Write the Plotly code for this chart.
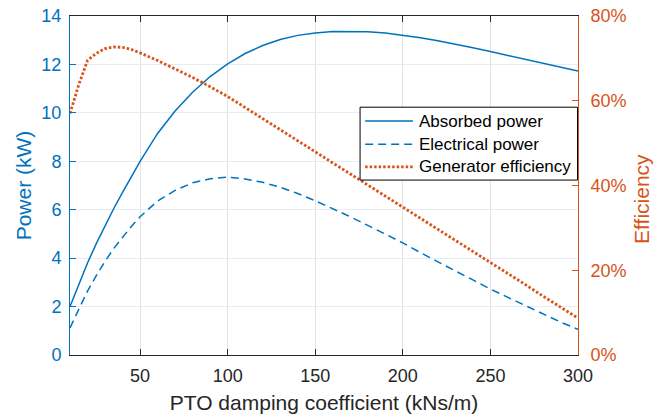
import plotly.graph_objects as go

# PTO damping coefficient (kNs/m)
damping = [10, 15, 20, 25, 30, 35, 40, 45, 50, 60, 70, 80, 90, 100, 110, 120, 130, 140,
           150, 160, 170, 180, 190, 200, 210, 220, 230, 240, 250, 260, 270, 280, 290, 300]

# absorbed power (kW)
absorbed = [2.0, 2.9, 3.8, 4.6, 5.35, 6.05, 6.72, 7.38, 8.0, 9.15, 10.08, 10.85, 11.5, 12.02,
            12.45, 12.78, 13.03, 13.2, 13.3, 13.36, 13.37, 13.35, 13.3, 13.21, 13.1, 12.98,
            12.85, 12.69, 12.53, 12.37, 12.2, 12.04, 11.88, 11.73]

# electrical power (kW)
electrical = [1.12, 1.85, 2.64, 3.28, 3.87, 4.4, 4.87, 5.31, 5.71, 6.36, 6.8, 7.11, 7.28,
              7.35, 7.27, 7.13, 6.93, 6.67, 6.37, 6.05, 5.71, 5.35, 4.99, 4.63, 4.23, 3.84,
              3.47, 3.1, 2.72, 2.38, 2.03, 1.68, 1.36, 1.06]

# generator efficiency (%)
efficiency = [57.0, 63.8, 69.5, 71.2, 72.3, 72.7, 72.6, 72.1, 71.3, 69.5, 67.5, 65.5, 63.3,
              61.0, 58.4, 55.8, 53.2, 50.5, 47.9, 45.3, 42.7, 40.1, 37.5, 34.9, 32.3, 29.6,
              27.0, 24.4, 21.8, 19.2, 16.6, 13.9, 11.3, 8.7]

series_names = ["Absorbed power", "Electrical power", "Generator efficiency"]

BLUE = "#0072BD"
ORANGE = "#D95319"
FONT = "Liberation Sans, Arial, Helvetica, sans-serif"

styles = [
    dict(color=BLUE, width=1.5),
    dict(color=BLUE, width=1.5, dash="8px,5px"),
    dict(color=ORANGE, width=2.8, dash="2.5px,2px"),
]

fig = go.Figure()

fig.add_trace(go.Scatter(x=damping, y=absorbed, name=series_names[0], mode="lines",
                         line=styles[0], yaxis="y"))
fig.add_trace(go.Scatter(x=damping, y=electrical, name=series_names[1], mode="lines",
                         line=styles[1], yaxis="y"))
fig.add_trace(go.Scatter(x=damping, y=efficiency, name=series_names[2], mode="lines",
                         line=styles[2], yaxis="y2"))

# matlab-style legend box drawn by hand (plotly rows are too tall)
shapes = [dict(type="rect", xref="paper", yref="paper", x0=0.571, x1=0.999, y0=0.516, y1=0.731,
               fillcolor="white", line=dict(color="black", width=1), layer="above")]
annotations = []
rows_y = [0.690, 0.622, 0.555]
for name, st, ry in zip(series_names, styles, rows_y):
    shapes.append(dict(type="line", xref="paper", yref="paper", x0=0.581, x1=0.675,
                       y0=ry, y1=ry, line=st, layer="above"))
    annotations.append(dict(text=name, xref="paper", yref="paper", x=0.684, y=ry,
                            xanchor="left", yanchor="middle", showarrow=False,
                            font=dict(size=17, color="black")))

# right axis title as annotation so it isn't clipped
annotations.append(dict(text="Efficiency", xref="paper", yref="paper", x=1.125, y=0.459,
                        xanchor="center", yanchor="middle", textangle=-90, showarrow=False,
                        font=dict(size=21, color=ORANGE)))

fig.update_layout(
    width=654, height=419,
    margin=dict(l=70, r=76, t=16, b=64, autoexpand=False),
    paper_bgcolor="white", plot_bgcolor="white",
    font=dict(family=FONT, size=18, color="black"),
    showlegend=False,
    shapes=shapes,
    annotations=annotations,
    xaxis=dict(range=[10, 300], tickvals=[50, 100, 150, 200, 250, 300],
               showline=True, linecolor="#262626", linewidth=1, mirror="ticks",
               ticks="inside", ticklen=6, tickcolor="#262626",
               showgrid=True, gridcolor="#e3e3e3", zeroline=False, automargin=False,
               tickfont=dict(size=18, color="#262626"), ticklabelstandoff=4,
               ticklabeloverflow="allow",
               title=dict(text="PTO damping coefficient (kNs/m)", standoff=10,
                          font=dict(size=21, color="#262626"))),
    yaxis=dict(range=[0, 14], dtick=2,
               showline=True, linecolor=BLUE, linewidth=1,
               ticks="inside", ticklen=6, tickcolor=BLUE,
               showgrid=True, gridcolor="#e2edf6", zeroline=False, automargin=False,
               tickfont=dict(size=18, color=BLUE), ticklabelstandoff=4,
               ticklabeloverflow="allow",
               title=dict(text="Power (kW)", standoff=4,
                          font=dict(size=21, color=BLUE))),
    yaxis2=dict(range=[0, 80], dtick=20, ticksuffix="%", overlaying="y", side="right",
                showline=True, linecolor=ORANGE, linewidth=1,
                ticks="inside", ticklen=6, tickcolor=ORANGE,
                showgrid=False, zeroline=False, automargin=False,
                tickfont=dict(size=18, color=ORANGE), ticklabelstandoff=8,
                ticklabeloverflow="allow"),
)

# drop the default 8px body margin so the figure fills the window exactly
fig.write_html("out.html", config={"displayModeBar": False},
               post_script="document.body.style.margin = '0px';")
